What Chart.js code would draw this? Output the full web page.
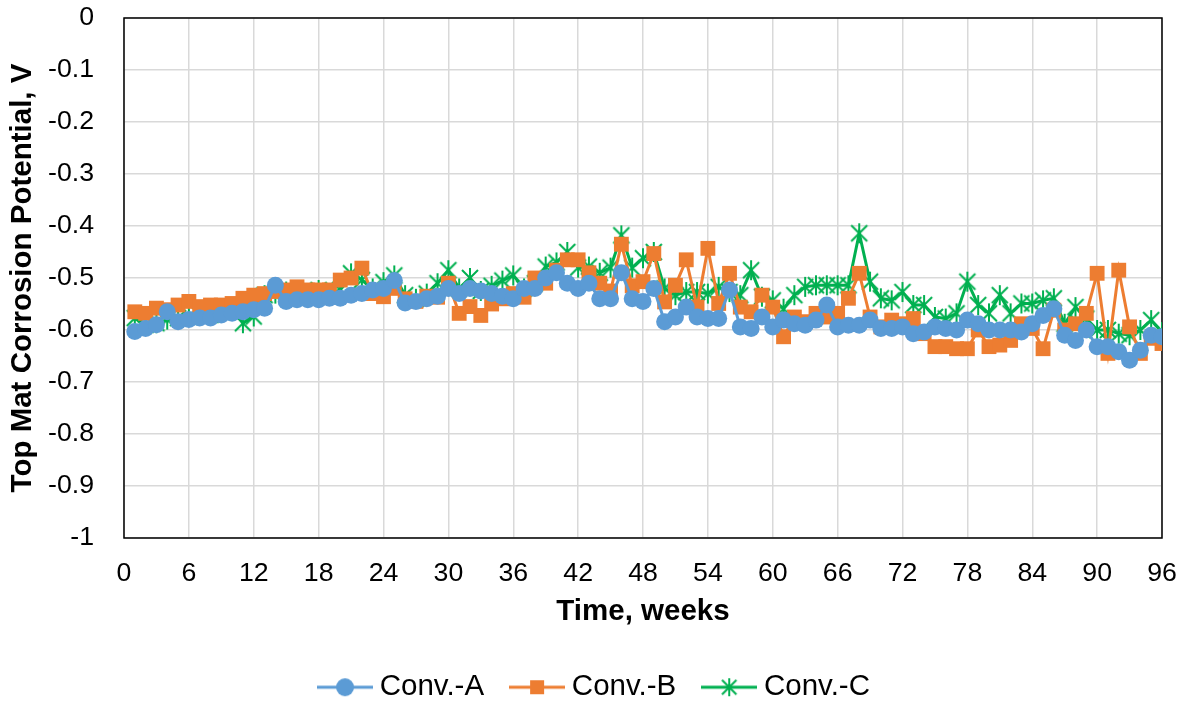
<!DOCTYPE html>
<html>
<head>
<meta charset="utf-8">
<script src="https://cdn.jsdelivr.net/npm/chart.js@4/dist/chart.umd.min.js"></script>
<style>
  html, body { margin: 0; padding: 0; background: #fff; }
  #wrap { width: 1185px; height: 702px; }
</style>
</head>
<body>
<div id="wrap"><canvas id="chart" width="1185" height="702"></canvas></div>
<script>
const weeks = [1, 2, 3, 4, 5, 6, 7, 8, 9, 10, 11, 12, 13, 14, 15, 16, 17, 18, 19, 20, 21, 22, 23, 24,
    25, 26, 27, 28, 29, 30, 31, 32, 33, 34, 35, 36, 37, 38, 39, 40, 41, 42, 43, 44, 45, 46, 47, 48,
    49, 50, 51, 52, 53, 54, 55, 56, 57, 58, 59, 60, 61, 62, 63, 64, 65, 66, 67, 68, 69, 70, 71, 72,
    73, 74, 75, 76, 77, 78, 79, 80, 81, 82, 83, 84, 85, 86, 87, 88, 89, 90, 91, 92, 93, 94, 95, 96];

const convA = [-0.603, -0.597, -0.590, -0.565, -0.584, -0.580, -0.577, -0.577, -0.571, -0.568, -0.565, -0.561,
    -0.558, -0.514, -0.545, -0.542, -0.542, -0.542, -0.539, -0.539, -0.533, -0.530, -0.523, -0.520,
    -0.505, -0.548, -0.545, -0.540, -0.535, -0.520, -0.530, -0.520, -0.525, -0.530, -0.535, -0.540,
    -0.520, -0.520, -0.500, -0.490, -0.510, -0.520, -0.510, -0.540, -0.540, -0.490, -0.540, -0.545,
    -0.520, -0.584, -0.575, -0.556, -0.575, -0.578, -0.578, -0.523, -0.594, -0.597, -0.575, -0.594,
    -0.581, -0.588, -0.591, -0.581, -0.552, -0.594, -0.591, -0.591, -0.581, -0.597, -0.597, -0.594,
    -0.607, -0.604, -0.594, -0.597, -0.600, -0.581, -0.588, -0.600, -0.600, -0.600, -0.604, -0.588,
    -0.572, -0.559, -0.610, -0.620, -0.600, -0.632, -0.632, -0.642, -0.658, -0.639, -0.610, -0.613];

const convB = [-0.565, -0.568, -0.558, -0.561, -0.552, -0.545, -0.555, -0.552, -0.552, -0.549, -0.539, -0.533,
    -0.530, -0.526, -0.523, -0.517, -0.523, -0.523, -0.523, -0.504, -0.500, -0.481, -0.530, -0.536,
    -0.520, -0.540, -0.545, -0.535, -0.537, -0.510, -0.568, -0.555, -0.572, -0.550, -0.540, -0.530,
    -0.537, -0.500, -0.510, -0.485, -0.465, -0.465, -0.490, -0.510, -0.525, -0.435, -0.515, -0.507,
    -0.453, -0.546, -0.514, -0.465, -0.556, -0.443, -0.549, -0.491, -0.556, -0.565, -0.533, -0.556,
    -0.613, -0.575, -0.584, -0.568, -0.575, -0.568, -0.539, -0.491, -0.575, -0.594, -0.581, -0.588,
    -0.578, -0.607, -0.632, -0.632, -0.636, -0.636, -0.600, -0.632, -0.629, -0.620, -0.588, -0.597,
    -0.636, -0.562, -0.600, -0.588, -0.568, -0.491, -0.645, -0.485, -0.594, -0.645, -0.616, -0.626];

const convC = [-0.577, -0.590, -0.587, -0.580, -0.577, -0.574, -0.571, -0.571, -0.565, -0.558, -0.587, -0.574,
    -0.533, -0.530, -0.526, -0.530, -0.530, -0.523, -0.530, -0.523, -0.491, -0.504, -0.520, -0.508,
    -0.495, -0.533, -0.540, -0.530, -0.510, -0.485, -0.520, -0.500, -0.525, -0.515, -0.505, -0.495,
    -0.520, -0.510, -0.478, -0.470, -0.450, -0.480, -0.478, -0.490, -0.480, -0.418, -0.480, -0.462,
    -0.450, -0.520, -0.533, -0.527, -0.527, -0.530, -0.517, -0.527, -0.533, -0.485, -0.536, -0.543,
    -0.559, -0.533, -0.517, -0.514, -0.514, -0.514, -0.514, -0.414, -0.507, -0.539, -0.543, -0.527,
    -0.552, -0.552, -0.575, -0.578, -0.568, -0.507, -0.552, -0.568, -0.533, -0.568, -0.549, -0.549,
    -0.543, -0.539, -0.588, -0.556, -0.578, -0.600, -0.600, -0.607, -0.610, -0.600, -0.581, -0.604];

const seriesNames = ['Conv.-A', 'Conv.-B', 'Conv.-C'];
const xTitle = 'Time, weeks';
const yTitle = 'Top Mat Corrosion Potential, V';

const BLUE = '#5B9BD5', ORANGE = '#ED7D31', GREEN = '#00B050';
const FONT = 'Liberation Sans, Arial, sans-serif';

// asterisk marker like the office one: X plus a vertical bar
function starImage(size) {
    const c = document.createElement('canvas');
    c.width = size; c.height = size;
    const g = c.getContext('2d');
    const m = size / 2, r = size / 2 - 1;
    g.strokeStyle = GREEN;
    g.lineWidth = 2;
    g.beginPath();
    g.moveTo(m - r * 0.8, m - r * 0.8); g.lineTo(m + r * 0.8, m + r * 0.8);
    g.moveTo(m + r * 0.8, m - r * 0.8); g.lineTo(m - r * 0.8, m + r * 0.8);
    g.moveTo(m, m - r); g.lineTo(m, m + r);
    g.stroke();
    return c;
}

// legend sample: short line with the marker in the middle
function legendImage(color, kind) {
    const c = document.createElement('canvas');
    c.width = 56; c.height = 22;
    const g = c.getContext('2d');
    g.strokeStyle = color;
    g.lineWidth = 3;
    g.beginPath();
    g.moveTo(0, 11); g.lineTo(56, 11);
    g.stroke();
    g.fillStyle = color;
    if (kind == 'circle') {
        g.beginPath(); g.arc(28, 11, 9, 0, Math.PI * 2); g.fill();
    } else if (kind == 'rect') {
        g.fillRect(21, 4, 14, 14);
    } else {
        g.drawImage(starImage(20), 18, 1);
    }
    return c;
}

const starMarker = starImage(22);
const legendIcons = [legendImage(BLUE, 'circle'), legendImage(ORANGE, 'rect'), legendImage(GREEN, 'star')];

function toPoints(values) {
    return weeks.map((w, i) => ({x: w, y: values[i]}));
}

const plotBorder = {
    id: 'plotBorder',
    beforeDatasetsDraw(chart) {
        const a = chart.chartArea;
        const ctx = chart.ctx;
        ctx.save();
        ctx.strokeStyle = '#000';
        ctx.lineWidth = 1.5;
        ctx.strokeRect(a.left, a.top, a.right - a.left, a.bottom - a.top);
        ctx.restore();
    }
};

new Chart(document.getElementById('chart').getContext('2d'), {
    type: 'line',
    data: {
        datasets: [
            {
                label: seriesNames[0],
                data: toPoints(convA),
                borderColor: BLUE,
                backgroundColor: BLUE,
                borderWidth: 3,
                pointStyle: 'circle',
                pointRadius: 8.5,
                pointBorderWidth: 0
            },
            {
                label: seriesNames[1],
                data: toPoints(convB),
                borderColor: ORANGE,
                backgroundColor: ORANGE,
                borderWidth: 3,
                pointStyle: 'rect',
                pointRadius: 10.5,
                pointBorderWidth: 0
            },
            {
                label: seriesNames[2],
                data: toPoints(convC),
                borderColor: GREEN,
                backgroundColor: GREEN,
                borderWidth: 3,
                pointStyle: starMarker,
                pointRadius: 10,
                pointBorderWidth: 0
            }
        ]
    },
    options: {
        responsive: false,
        animation: false,
        layout: { padding: { top: 18, right: 23, left: 33, bottom: -10 } },
        plugins: {
            tooltip: { enabled: false },
            legend: {
                position: 'bottom',
                labels: {
                    usePointStyle: true,
                    pointStyleWidth: 40,
                    padding: 33,
                    color: '#000',
                    font: { family: FONT, size: 29.5 },
                    generateLabels(chart) {
                        return chart.data.datasets.map((ds, i) => ({
                            text: ds.label,
                            pointStyle: legendIcons[i],
                            fillStyle: ds.borderColor,
                            strokeStyle: ds.borderColor,
                            lineWidth: 0,
                            hidden: false,
                            datasetIndex: i,
                            fontColor: '#000'
                        }));
                    }
                }
            }
        },
        scales: {
            x: {
                type: 'linear',
                min: 0,
                max: 96,
                ticks: {
                    stepSize: 6,
                    padding: 20,
                    color: '#000',
                    font: { family: FONT, size: 26.7 }
                },
                grid: { color: '#D9D9D9', lineWidth: 1.5, drawTicks: false },
                border: { display: false },
                title: {
                    display: true,
                    text: xTitle,
                    color: '#000',
                    padding: { top: 0, bottom: 10 },
                    font: { family: FONT, size: 29.5, weight: 'bold' }
                },
                afterFit(scale) {
                    scale.height = 101.5;
                    scale.paddingLeft = 0;
                    scale.paddingRight = 0;
                }
            },
            y: {
                min: -1,
                max: 0,
                ticks: {
                    stepSize: 0.1,
                    padding: 30,
                    color: '#000',
                    font: { family: FONT, size: 26.7 },
                    callback: v => String(Math.round(v * 10) / 10)
                },
                grid: { color: '#D9D9D9', lineWidth: 1.5, drawTicks: false },
                border: { display: false },
                title: {
                    display: true,
                    text: yTitle,
                    color: '#000',
                    padding: { top: -28, bottom: 0 },
                    font: { family: FONT, size: 29.5, weight: 'bold' }
                },
                afterFit(scale) {
                    scale.width = 91;
                    scale.paddingTop = 0;
                    scale.paddingBottom = 0;
                }
            }
        }
    },
    plugins: [plotBorder]
});
</script>
</body>
</html>
